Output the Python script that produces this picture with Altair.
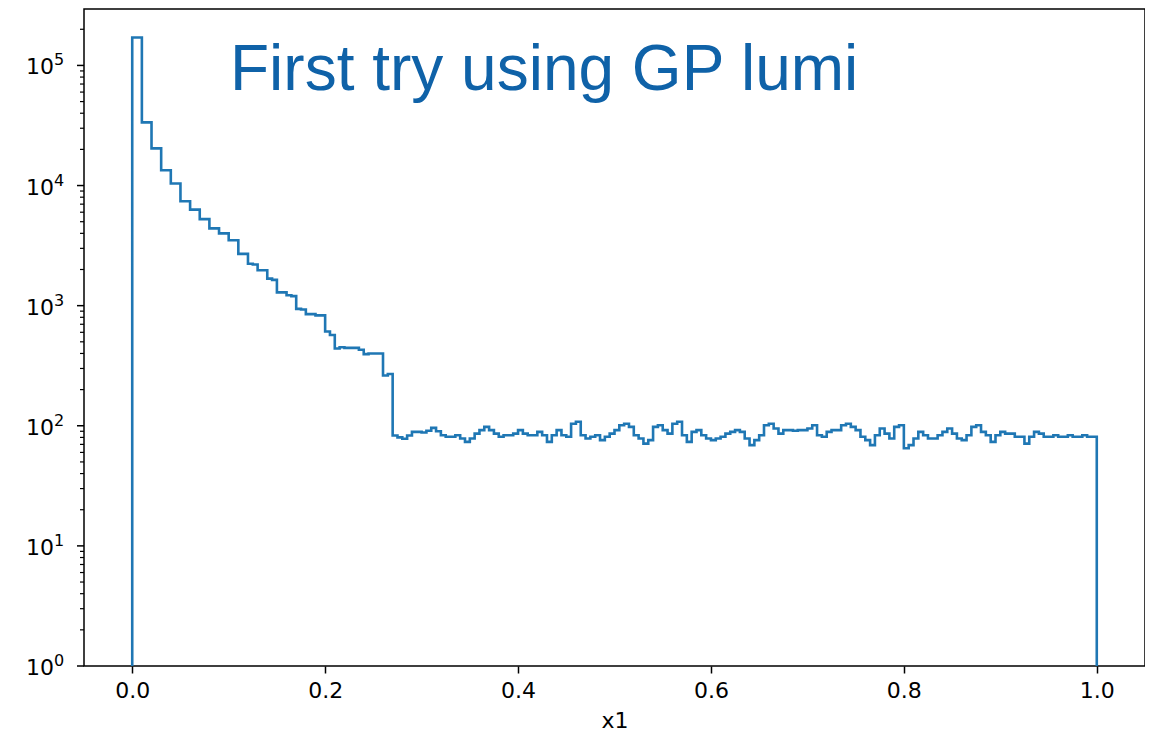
import altair as alt
import pandas as pd

# ---- data (histogram, 200 bins of width 0.005 over [0, 1]) ----
BIN_WIDTH = 0.005
early_counts = [
    171000, 171000, 33600, 33600, 20400, 20400, 13400, 13400, 10400, 10400,
    7400, 7400, 6300, 6300, 5250, 5250, 4400, 4400, 4000, 4000,
    3500, 3500, 2700, 2700, 2230, 2200, 1970, 1970, 1680, 1640,
    1290, 1290, 1220, 1200, 940, 930, 850, 850, 830, 830,
    610, 570, 440, 450, 445, 445, 445, 430, 395, 400,
    400, 400, 262, 270,
]
flat_counts = [
    83, 80, 78, 83, 89, 89, 88, 91, 96, 90,
    83.5, 81, 81, 83.5, 78.4, 73.5, 78.4, 86, 92, 98,
    92, 86, 81, 83.5, 83.5, 86, 92, 86, 83.5, 83.5,
    89, 83.5, 73.5, 83.5, 92, 83.5, 81, 104, 108, 83.5,
    78.4, 81, 83.5, 76, 81, 86, 92, 101, 104, 98,
    83.5, 78.4, 71, 76, 98, 101, 92, 86, 104, 108,
    83.5, 73.5, 89, 92, 83.5, 78.4, 76, 78.4, 81, 86,
    89, 92, 89, 78.4, 69, 76, 83.5, 101, 104, 95,
    86, 92, 92, 91, 92, 92, 95, 101, 83.5, 81,
    89, 92, 92, 101, 104, 98, 92, 81, 76, 69,
    83.5, 95, 86, 78.4, 98, 101, 65, 69, 78.4, 89,
    83.5, 78.4, 78.4, 83.5, 89, 95, 86, 78.4, 76, 83.5,
    98, 101, 89, 83.5, 73.5, 83.5, 89, 86, 86, 81,
    81, 71, 81, 89, 86, 81, 81, 83.5, 81, 81,
    83.5, 81, 81, 83.5, 81, 81,
]
counts = early_counts + flat_counts
edges = [round(i * BIN_WIDTH, 4) for i in range(len(counts) + 1)]

x_ticks = [0.0, 0.2, 0.4, 0.6, 0.8, 1.0]
y_major = [1, 10, 100, 1000, 10000, 100000]
y_exponents = ["0", "1", "2", "3", "4", "5"]
y_minor = [m * 10 ** k for k in range(6) for m in range(2, 10) if m * 10 ** k < 2.9e5]
y_floor = 1
y_top = 2.95e5
title_text = "First try using GP lumi"
x_title = "x1"

# ---- step outline of the histogram (matplotlib histtype='step') ----
rows = [{"order": 0, "x": edges[0], "y": y_floor}]
for i, c in enumerate(counts):
    rows.append({"order": i + 1, "x": edges[i], "y": c})
rows.append({"order": len(counts) + 1, "x": edges[-1], "y": counts[-1]})
rows.append({"order": len(counts) + 2, "x": edges[-1], "y": y_floor})
df = pd.DataFrame(rows)

FONT = "DejaVu Sans"
FS = 22
xscale = alt.Scale(domain=[-0.05, 1.05], nice=False, zero=False)
yscale = alt.Scale(type="log", domain=[y_floor, y_top], nice=False)

line = alt.Chart(df).mark_line(
    interpolate="step-after", color="#1f77b4", strokeWidth=2.6, clip=True
).encode(
    x=alt.X("x:Q", scale=xscale,
            axis=alt.Axis(values=x_ticks, format=".1f", title=x_title)),
    y=alt.Y("y:Q", scale=yscale, axis=None),
    order="order:Q",
)

# y ticks (major and minor log ticks) drawn through the y scale
major_df = pd.DataFrame({"v": y_major, "e": y_exponents})
minor_df = pd.DataFrame({"v": y_minor})
major_ticks = alt.Chart(major_df).mark_tick(
    orient="horizontal", size=7, thickness=1.5, color="black", opacity=1
).encode(
    x=alt.value(-3.5),
    y=alt.Y("v:Q", scale=yscale, axis=None),
)
minor_ticks = alt.Chart(minor_df).mark_tick(
    orient="horizontal", size=4, thickness=1.2, color="black", opacity=1
).encode(
    x=alt.value(-2),
    y=alt.Y("v:Q", scale=yscale, axis=None),
)

# y tick labels drawn as "10" + raised exponent (matplotlib mathtext style)
base_lbl = alt.Chart(major_df).mark_text(
    align="right", baseline="alphabetic", font=FONT, fontSize=FS, color="black", dy=9
).encode(
    x=alt.value(-30), y=alt.Y("v:Q", scale=yscale, axis=None), text=alt.value("10")
)
exp_lbl = alt.Chart(major_df).mark_text(
    align="left", baseline="alphabetic", font=FONT, fontSize=16, color="black", dy=0
).encode(
    x=alt.value(-30), y=alt.Y("v:Q", scale=yscale, axis=None), text="e:N"
)

title_df = pd.DataFrame({"t": [title_text]})
title = alt.Chart(title_df).mark_text(
    align="left", baseline="alphabetic", font="Liberation Sans",
    fontSize=64, color="#0f62a8",
).encode(
    x=alt.value(146), y=alt.value(81), text="t:N"
)

chart = alt.layer(line, major_ticks, minor_ticks, base_lbl, exp_lbl, title).properties(
    width=1061, height=657,
    autosize=alt.AutoSizeParams(type="none"),
    padding={"left": 76, "top": 1, "right": 0, "bottom": 67},
).configure_view(
    stroke="black", strokeWidth=1.5
).configure_axis(
    domain=False, grid=False,
    tickSize=7, tickWidth=1.5, tickColor="black",
    labelFont=FONT, labelFontSize=FS, labelColor="black", labelPadding=7,
    titleFont=FONT, titleFontSize=FS, titleFontWeight="normal", titleColor="black",
    titlePadding=9,
)

chart.save("out.html", embed_options={"renderer": "svg", "actions": False})
